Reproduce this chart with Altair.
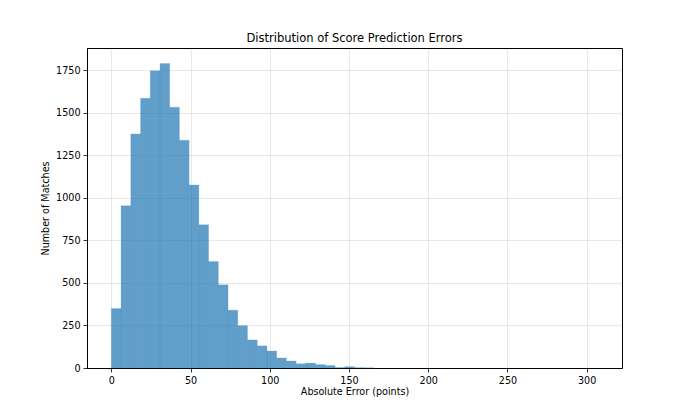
import altair as alt
import pandas as pd

# Histogram of absolute prediction errors (50 bins from 0 to ~307)
bin_width = 6.14
counts = [350, 953, 1375, 1585, 1746, 1789, 1532, 1338, 1075, 842,
          626, 489, 340, 249, 165, 130, 100, 59, 41, 25,
          29, 20, 15, 3, 8, 2, 1, 0, 0, 0,
          0, 0, 0, 0, 0, 0, 0, 0, 0, 0,
          0, 0, 0, 0, 0, 0, 0, 0, 0, 0]
x_ticks = [0, 50, 100, 150, 200, 250, 300]
y_ticks = [0, 250, 500, 750, 1000, 1250, 1500, 1750]

df = pd.DataFrame({
    "start": [i * bin_width for i in range(len(counts))],
    "end": [(i + 1) * bin_width for i in range(len(counts))],
    "count": counts,
})
df = df[df["count"] > 0]

font = "DejaVu Sans"

bars = alt.Chart(df).mark_bar(
    color="#1f77b4", opacity=0.7, stroke="#1f77b4", strokeWidth=0.4, strokeOpacity=0.6
).encode(
    x=alt.X("start:Q",
            scale=alt.Scale(domain=[-15.35, 322.3], nice=False, zero=False),
            axis=alt.Axis(values=x_ticks, title="Absolute Error (points)", format="d")),
    x2="end:Q",
    y=alt.Y("count:Q",
            scale=alt.Scale(domain=[0, 1880], nice=False),
            axis=alt.Axis(values=y_ticks, title="Number of Matches", format="d")),
    y2=alt.datum(0),
)

chart = bars.properties(
    width=535,
    height=320,
    title=alt.TitleParams("Distribution of Score Prediction Errors",
                          font=font, fontSize=11.5, fontWeight="normal",
                          color="black", offset=4, anchor="middle"),
    autosize=alt.AutoSizeParams(type="none"),
    padding={"left": 79, "top": 40, "right": 60, "bottom": 37},
).configure_view(
    stroke="black", strokeWidth=1
).configure_axis(
    labelFont=font, titleFont=font, labelFontSize=9.6, titleFontSize=9.6,
    titleFontWeight="normal", labelColor="black", titleColor="black",
    domainColor="black", tickColor="black", tickSize=4, tickWidth=0.8,
    domainWidth=1, gridColor="#b0b0b0", gridOpacity=0.35, gridWidth=0.8,
    labelPadding=3,
).configure_axisX(
    titlePadding=2
).configure_axisY(
    titlePadding=5
)

chart.save("out.html", embed_options={"renderer": "svg", "actions": False})
